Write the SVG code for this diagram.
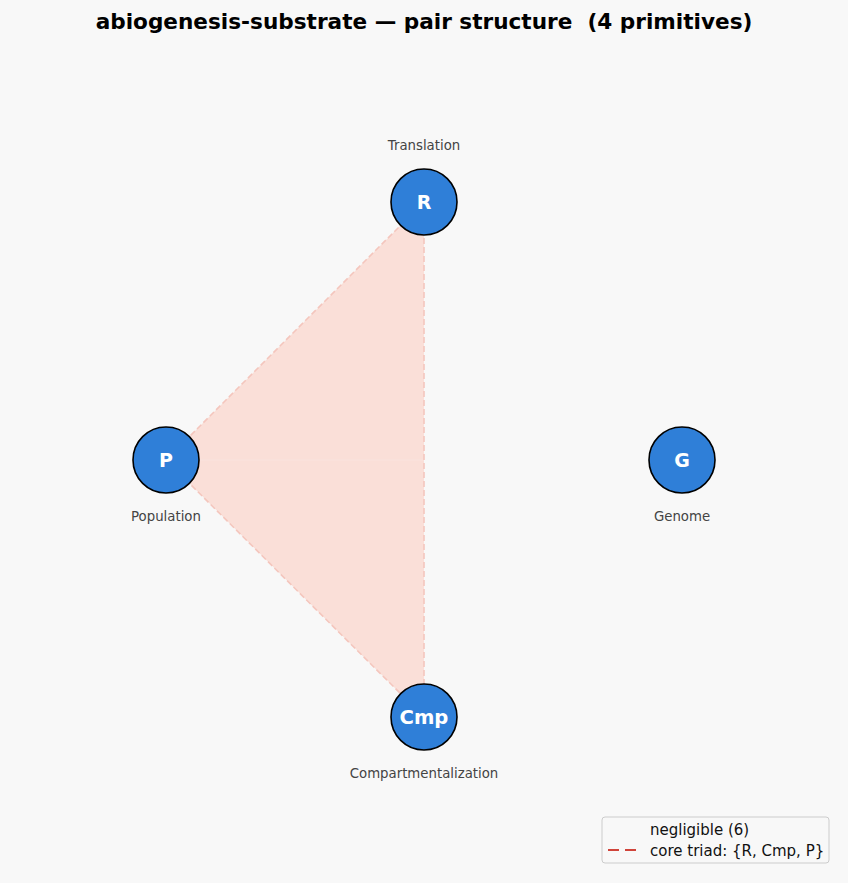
<svg xmlns="http://www.w3.org/2000/svg" width="848" height="883" viewBox="0 0 848 883">
<style>
.title{font-family:"DejaVu Sans",sans-serif;font-weight:bold;font-size:21.6px;fill:#000;white-space:pre}
.node circle{fill:#2f7fd8;stroke:#000;stroke-width:1.6}
.node .sym{font-family:"DejaVu Sans",sans-serif;font-weight:bold;font-size:19px;fill:#fff;text-anchor:middle}
.lbl{font-family:"DejaVu Sans",sans-serif;font-size:13.3px;fill:#444;text-anchor:middle}
.edge{stroke:#f4c6bd;stroke-width:1.6;stroke-dasharray:6,3;fill:none}
.leg{font-family:"DejaVu Sans",sans-serif;font-size:15px;fill:#111}
</style>
<rect width="848" height="883" fill="#f8f8f8"/>
<text class="title" x="424" y="29" text-anchor="middle" xml:space="preserve">abiogenesis-substrate — pair structure  (4 primitives)</text>
<g id="connectors">
<polygon points="424,202 166,460 424,717" fill="#fadfd8"/>
<line x1="166" y1="460" x2="424" y2="460" stroke="#f9e3de" stroke-width="1"/>
<line class="edge" x1="424" y1="202" x2="166" y2="460"/>
<line class="edge" x1="166" y1="460" x2="424" y2="717"/>
<line class="edge" x1="424" y1="202" x2="424" y2="717"/>
</g>
<g id="node-R" class="node">
<circle cx="424" cy="202" r="33"/>
<text class="sym" x="424" y="209">R</text>
<text class="lbl" x="424" y="150">Translation</text>
</g>
<g id="node-P" class="node">
<circle cx="166" cy="460" r="33"/>
<text class="sym" x="166" y="467">P</text>
<text class="lbl" x="166" y="521">Population</text>
</g>
<g id="node-G" class="node">
<circle cx="682" cy="460" r="33"/>
<text class="sym" x="682" y="467">G</text>
<text class="lbl" x="682" y="521">Genome</text>
</g>
<g id="node-Cmp" class="node">
<circle cx="424" cy="717" r="33"/>
<text class="sym" x="424" y="724" style="font-size:19.6px">Cmp</text>
<text class="lbl" x="424" y="778">Compartmentalization</text>
</g>
<g id="legend">
<rect x="602" y="817" width="227" height="46" rx="3" fill="#f8f8f8" stroke="#cccccc" stroke-width="1"/>
<text class="leg" x="650" y="835">negligible (6)</text>
<line x1="608" y1="850" x2="638" y2="850" stroke="#d0443a" stroke-width="2.2" stroke-dasharray="11,6"/>
<text class="leg" x="650" y="856">core triad: {R, Cmp, P}</text>
</g>
</svg>
